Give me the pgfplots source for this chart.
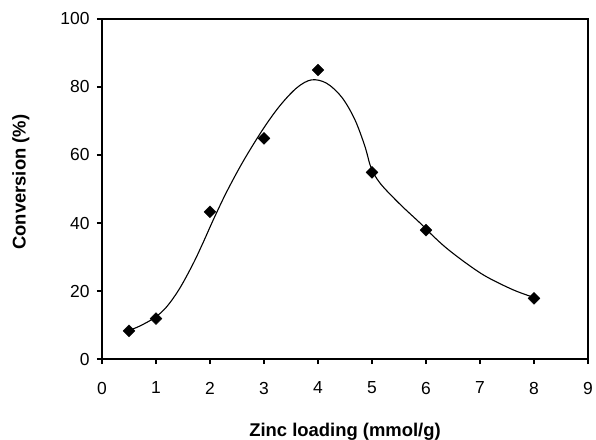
\documentclass[border=0pt]{standalone}
\usepackage{pgfplots}
\pgfplotsset{compat=1.18}
\usepackage{fontspec}
\setmainfont{Liberation Sans}
\begin{document}
\begin{tikzpicture}
\useasboundingbox (-102bp,-81bp) rectangle (494bp,359bp);
\begin{axis}[
  at={(0,0)}, anchor=south west,
  scale only axis,
  width=486bp, height=340bp,
  xmin=0, xmax=9, ymin=0, ymax=100,
  xtick={0,1,2,3,4,5,6,7,8,9},
  xticklabels={0,1,2,3,4,5,6,7,8,9},
  ytick={0,20,40,60,80,100},
  yticklabels={0,20,40,60,80,100},
  xtick pos=left, ytick pos=left,
  tick align=outside,
  major tick length=5bp,
  axis line style={line width=2.2bp},
  every tick/.style={line width=1.8bp, black},
  xticklabel style={font=\fontsize{17.5}{21}\selectfont, anchor=center, yshift=-24bp},
  yticklabel style={font=\fontsize{17.5}{21}\selectfont, anchor=east, xshift=-4bp},
  xlabel={Zinc loading (mmol/g)},
  ylabel={Conversion (\%)},
  xlabel style={font=\fontsize{18.5}{22}\selectfont\bfseries, at={(axis description cs:0.5,-0.2265)}, anchor=base},
  ylabel style={font=\fontsize{18.5}{22}\selectfont\bfseries, at={(axis description cs:-0.1667,0.52)}, anchor=center},
  clip=false,
]
\addplot[black, line width=1.1bp, smooth, tension=0.55] coordinates {
(0.5,8.4) (0.70,9.7) (0.98,12.2) (1.20,15.4) (1.44,20.8) (1.69,28.1) (1.88,34.5)
(2.06,40.9) (2.31,49.2) (2.62,58.3) (2.99,67.8) (3.30,74.6) (3.61,79.8) (3.88,82.1)
(4.16,81.1) (4.44,77) (4.68,70.5) (4.87,62.5) (4.98,56.4) (5.15,51.7) (5.52,45.5)
(5.89,40.0) (6.11,36.5) (6.38,32.6) (6.75,28.1) (7.12,24.2) (7.62,20.3) (8.0,18.1)
};
\addplot[only marks, mark=square*, mark size=4.2bp, mark options={rotate=45, fill=black, draw=black}] coordinates {
(0.5,8.3) (1,11.9) (2,43.3) (3,64.9) (4,85) (5,54.9) (6,37.9) (8,17.85)
};
\end{axis}
\end{tikzpicture}
\end{document}
